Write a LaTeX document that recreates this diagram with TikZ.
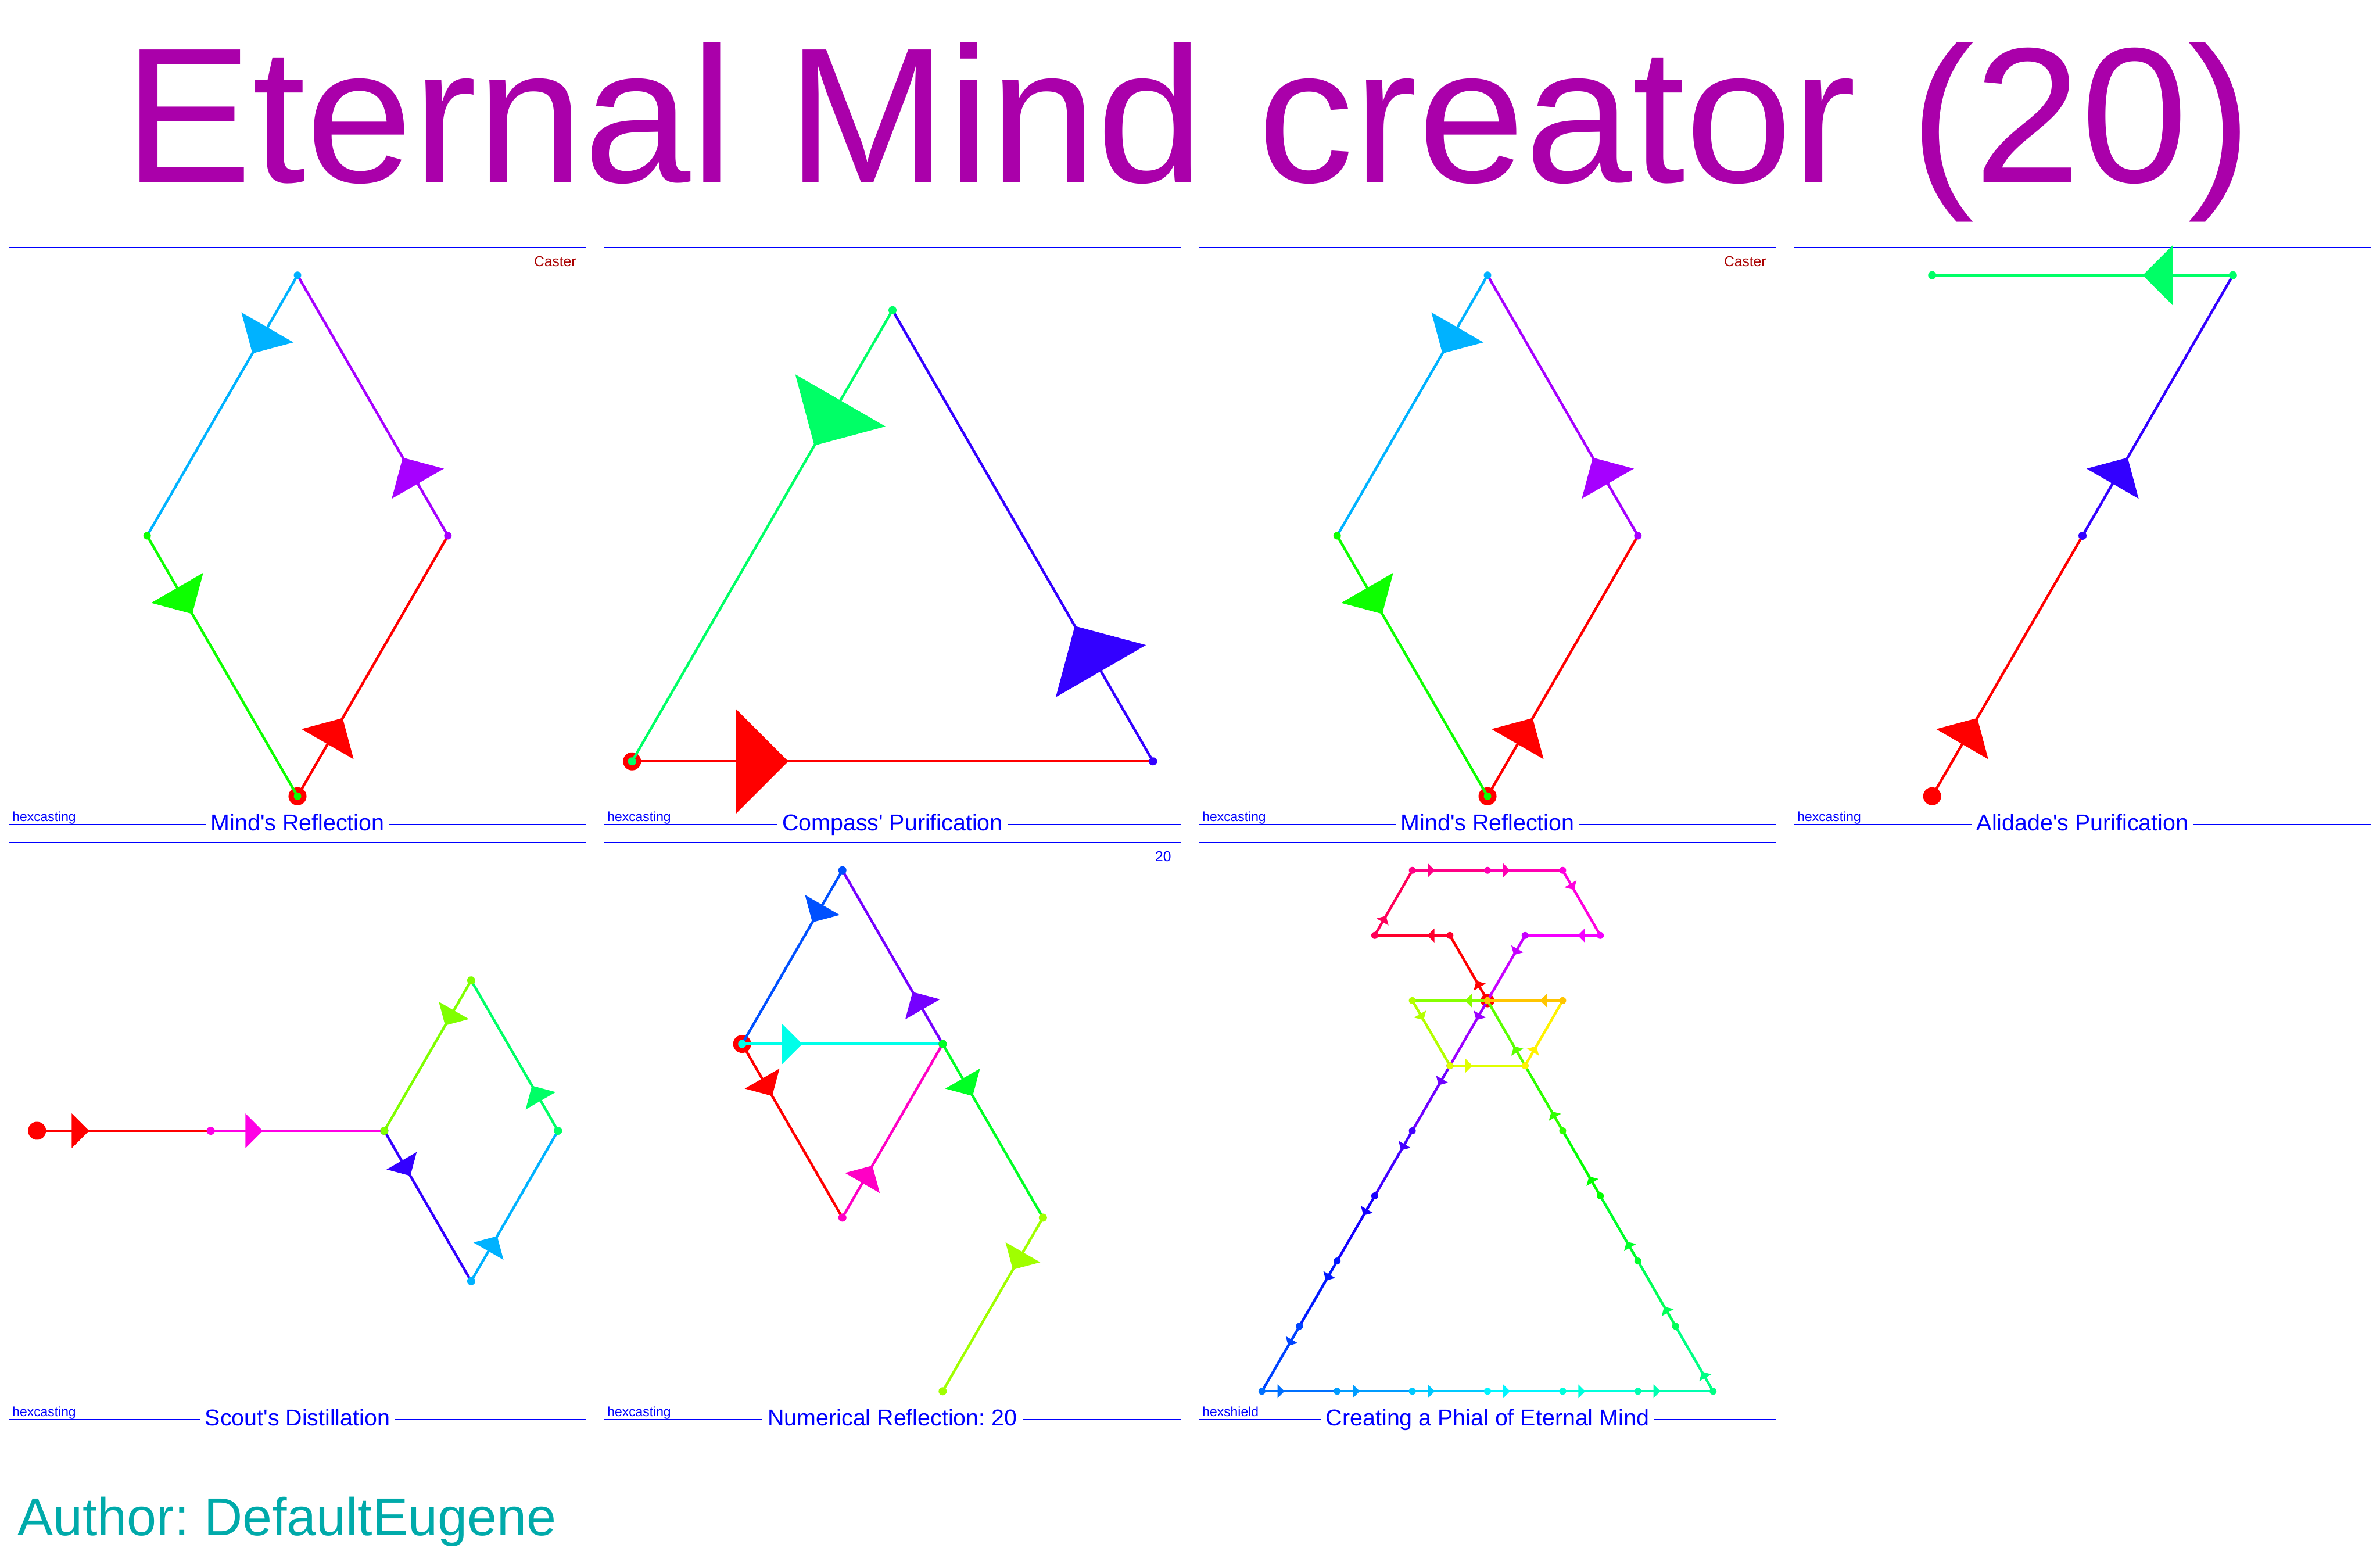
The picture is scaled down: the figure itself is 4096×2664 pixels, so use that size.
\documentclass[tikz,border=0pt]{standalone}
\usepackage{fontspec}
\newfontfamily\hexfont{Liberation Sans}
\usepackage{tikz}
\usetikzlibrary{decorations.markings}

\definecolor{titlepurple}{RGB}{170,0,170}
\definecolor{authorteal}{RGB}{0,170,170}
\definecolor{casterred}{RGB}{170,0,0}
\frenchspacing

\begin{document}
\begin{tikzpicture}[x=0.01cm, y=-0.01cm,
  nseg/.store in=\nseg, arrlen/.store in=\arrlen,
  hue/.code={\pgfmathsetmacro\huev{mod(360-(#1)*324/\nseg,360)}%
    \convertcolorspec{Hsb}{\huev,1,1}{rgb}\segrgb\definecolor{segcol}{rgb}{\segrgb}},
  seg/.style={hue=#1, draw=segcol, line width=1.25pt, line cap=round,
    postaction={decorate, decoration={markings,
      mark=at position 0.3 with {\fill[segcol] (0,0) -- (-\arrlen,\arrlen) -- (-\arrlen,-\arrlen) -- cycle;}}}},
  dot/.style={hue=#1, fill=segcol},
  frame/.style={draw=blue, line width=0.35pt, minimum width=9.92cm, minimum height=9.92cm, inner sep=0pt, outer sep=0pt},
  lbl/.style={font=\hexfont\fontsize{11.2}{13}\selectfont, text=blue, fill=white, inner xsep=0.09cm, inner ysep=0pt, anchor=base},
  src/.style={font=\hexfont\fontsize{6.5}{8}\selectfont, text=blue, inner sep=0pt, anchor=base west},
  tag/.style={font=\hexfont\fontsize{7}{8}\selectfont, inner sep=0pt, anchor=base east}]

\useasboundingbox (0,0) rectangle (4096,2664);

\node[font=\hexfont\fontsize{94.2}{110}\selectfont, text=titlepurple, anchor=base, inner sep=0pt] (title) at (2045,314) {Eternal Mind creator (20)};
\node[font=\hexfont\fontsize{26.06}{30}\selectfont, text=authorteal, anchor=base west, inner sep=0pt] (author) at (29.5,2642) {Author: DefaultEugene};

% frames
\node[frame] (p1) at (512,922) {};
\node[frame] (p2) at (1536,922) {};
\node[frame] (p3) at (2560,922) {};
\node[frame] (p4) at (3584,922) {};
\node[frame] (p5) at (512,1946) {};
\node[frame] (p6) at (1536,1946) {};
\node[frame] (p7) at (2560,1946) {};

% Mind's Reflection, twice
\foreach \pn/\cx in {1/512, 3/2560} {
  \node[lbl] (t\pn) at ([yshift=-0.107cm]p\pn.south) {Mind's Reflection};
  \node[src] (s\pn) at ([xshift=0.05cm,yshift=0.045cm]p\pn.south west) {hexcasting};
  \node[tag, text=casterred] (c\pn) at ([xshift=-0.16cm,yshift=-0.324cm]p\pn.north east) {Caster};
  \begin{scope}[shift={(\cx,922)}, x={(2.5866cm,0)}, y={(0,4.48cm)}, nseg=4, arrlen=0.5173cm]
    \coordinate (m\pn0) at (0,-1);
    \coordinate (m\pn1) at (1,0);
    \coordinate (m\pn2) at (0,1);
    \coordinate (m\pn3) at (-1,0);
    \fill[red] (m\pn0) circle[radius=0.155cm];
    \draw[seg=0] (m\pn0) -- (m\pn1);
    \draw[seg=1] (m\pn1) -- (m\pn2);
    \draw[seg=2] (m\pn2) -- (m\pn3);
    \draw[seg=3] (m\pn3) -- (m\pn0);
    \fill[dot=1] (m\pn1) circle[radius=0.065cm];
    \fill[dot=2] (m\pn2) circle[radius=0.065cm];
    \fill[dot=3] (m\pn3) circle[radius=0.065cm];
    \fill[dot=3] (m\pn0) circle[radius=0.065cm];
  \end{scope}
}

% Compass' Purification
\node[lbl] (t2) at ([yshift=-0.107cm]p2.south) {Compass' Purification};
\node[src] (s2) at ([xshift=0.05cm,yshift=0.045cm]p2.south west) {hexcasting};
\begin{scope}[shift={(1536,922)}, x={(4.48cm,0)}, y={(0,7.76cm)}, nseg=3, arrlen=0.896cm]
  \coordinate (b0) at (-1,-0.5);
  \coordinate (b1) at (1,-0.5);
  \coordinate (b2) at (0,0.5);
  \fill[red] (b0) circle[radius=0.155cm];
  \draw[seg=0] (b0) -- (b1);
  \draw[seg=1] (b1) -- (b2);
  \draw[seg=2] (b2) -- (b0);
  \fill[dot=1] (b1) circle[radius=0.07cm];
  \fill[dot=2] (b2) circle[radius=0.07cm];
  \fill[dot=2] (b0) circle[radius=0.07cm];
\end{scope}

% Alidade's Purification
\node[lbl] (t4) at ([yshift=-0.107cm]p4.south) {Alidade's Purification};
\node[src] (s4) at ([xshift=0.05cm,yshift=0.045cm]p4.south west) {hexcasting};
\begin{scope}[shift={(3584,922)}, x={(2.5866cm,0)}, y={(0,4.48cm)}, nseg=3, arrlen=0.5173cm]
  \coordinate (d0) at (-1,-1);
  \coordinate (d1) at (0,0);
  \coordinate (d2) at (1,1);
  \coordinate (d3) at (-1,1);
  \fill[red] (d0) circle[radius=0.155cm];
  \draw[seg=0] (d0) -- (d1);
  \draw[seg=1] (d1) -- (d2);
  \draw[seg=2] (d2) -- (d3);
  \fill[dot=1] (d1) circle[radius=0.07cm];
  \fill[dot=2] (d2) circle[radius=0.07cm];
  \fill[dot=2] (d3) circle[radius=0.07cm];
\end{scope}

% Scout's Distillation
\node[lbl] (t5) at ([yshift=-0.107cm]p5.south) {Scout's Distillation};
\node[src] (s5) at ([xshift=0.05cm,yshift=0.045cm]p5.south west) {hexcasting};
\begin{scope}[shift={(512,1946)}, x={(1.4934cm,0)}, y={(0,2.5866cm)}, nseg=6, arrlen=0.2987cm]
  \coordinate (e0) at (-3,0);
  \coordinate (e1) at (-1,0);
  \coordinate (e2) at (1,0);
  \coordinate (e3) at (2,-1);
  \coordinate (e4) at (3,0);
  \coordinate (e5) at (2,1);
  \fill[red] (e0) circle[radius=0.155cm];
  \draw[seg=0] (e0) -- (e1);
  \draw[seg=1] (e1) -- (e2);
  \draw[seg=2] (e2) -- (e3);
  \draw[seg=3] (e3) -- (e4);
  \draw[seg=4] (e4) -- (e5);
  \draw[seg=5] (e5) -- (e2);
  \fill[dot=1] (e1) circle[radius=0.07cm];
  \fill[dot=2] (e2) circle[radius=0.07cm];
  \fill[dot=3] (e3) circle[radius=0.07cm];
  \fill[dot=4] (e4) circle[radius=0.07cm];
  \fill[dot=5] (e5) circle[radius=0.07cm];
  \fill[dot=5] (e2) circle[radius=0.07cm];
\end{scope}

% Numerical Reflection: 20
\node[lbl] (t6) at ([yshift=-0.107cm]p6.south) {Numerical Reflection: 20};
\node[src] (s6) at ([xshift=0.05cm,yshift=0.045cm]p6.south west) {hexcasting};
\node[tag, text=blue] (n6) at ([xshift=-0.16cm,yshift=-0.324cm]p6.north east) {20};
\begin{scope}[shift={(1536,1946)}, x={(1.7244cm,0)}, y={(0,2.9867cm)}, nseg=7, arrlen=0.3449cm]
  \coordinate (f0) at (-1.5,0.5);
  \coordinate (f1) at (-0.5,-0.5);
  \coordinate (f2) at (0.5,0.5);
  \coordinate (f3) at (-0.5,1.5);
  \coordinate (f4) at (1.5,-0.5);
  \coordinate (f5) at (0.5,-1.5);
  \fill[red] (f0) circle[radius=0.155cm];
  \draw[seg=0] (f0) -- (f1);
  \draw[seg=1] (f1) -- (f2);
  \draw[seg=2] (f2) -- (f3);
  \draw[seg=3] (f3) -- (f0);
  \draw[seg=4] (f0) -- (f2);
  \draw[seg=5] (f2) -- (f4);
  \draw[seg=6] (f4) -- (f5);
  \fill[dot=1] (f1) circle[radius=0.07cm];
  \fill[dot=2] (f2) circle[radius=0.07cm];
  \fill[dot=3] (f3) circle[radius=0.07cm];
  \fill[dot=4] (f0) circle[radius=0.07cm];
  \fill[dot=5] (f2) circle[radius=0.07cm];
  \fill[dot=6] (f4) circle[radius=0.07cm];
  \fill[dot=6] (f5) circle[radius=0.07cm];
\end{scope}

% Creating a Phial of Eternal Mind
\node[lbl] (t7) at ([yshift=-0.107cm]p7.south) {Creating a Phial of Eternal Mind};
\node[src] (s7) at ([xshift=0.05cm,yshift=0.045cm]p7.south west) {hexshield};
\begin{scope}[shift={(2560,1946)}, x={(0.64665cm,0)}, y={(0,1.12cm)}, nseg=31, arrlen=0.12cm]
  \foreach \i/\gx/\gy in {0/0/0, 1/-1/1, 2/-3/1, 3/-2/2, 4/0/2, 5/2/2, 6/3/1, 7/1/1,
      8/0/0, 9/-1/-1, 10/-2/-2, 11/-3/-3, 12/-4/-4, 13/-5/-5, 14/-6/-6, 15/-4/-6,
      16/-2/-6, 17/0/-6, 18/2/-6, 19/4/-6, 20/6/-6, 21/5/-5, 22/4/-4, 23/3/-3,
      24/2/-2, 25/1/-1, 26/0/0, 27/-2/0, 28/-1/-1, 29/1/-1, 30/2/0, 31/0/0}
    \coordinate (g\i) at (\gx,\gy+2);
  \fill[red] (g0) circle[radius=0.117cm];
  \foreach \i [evaluate=\i as \j using {int(\i+1)}] in {0,...,30}
    \draw[seg=\i] (g\i) -- (g\j);
  \foreach \i in {1,...,30}
    \fill[dot=\i] (g\i) circle[radius=0.06cm];
  \fill[dot=30] (g31) circle[radius=0.06cm];
\end{scope}

\end{tikzpicture}
\end{document}
